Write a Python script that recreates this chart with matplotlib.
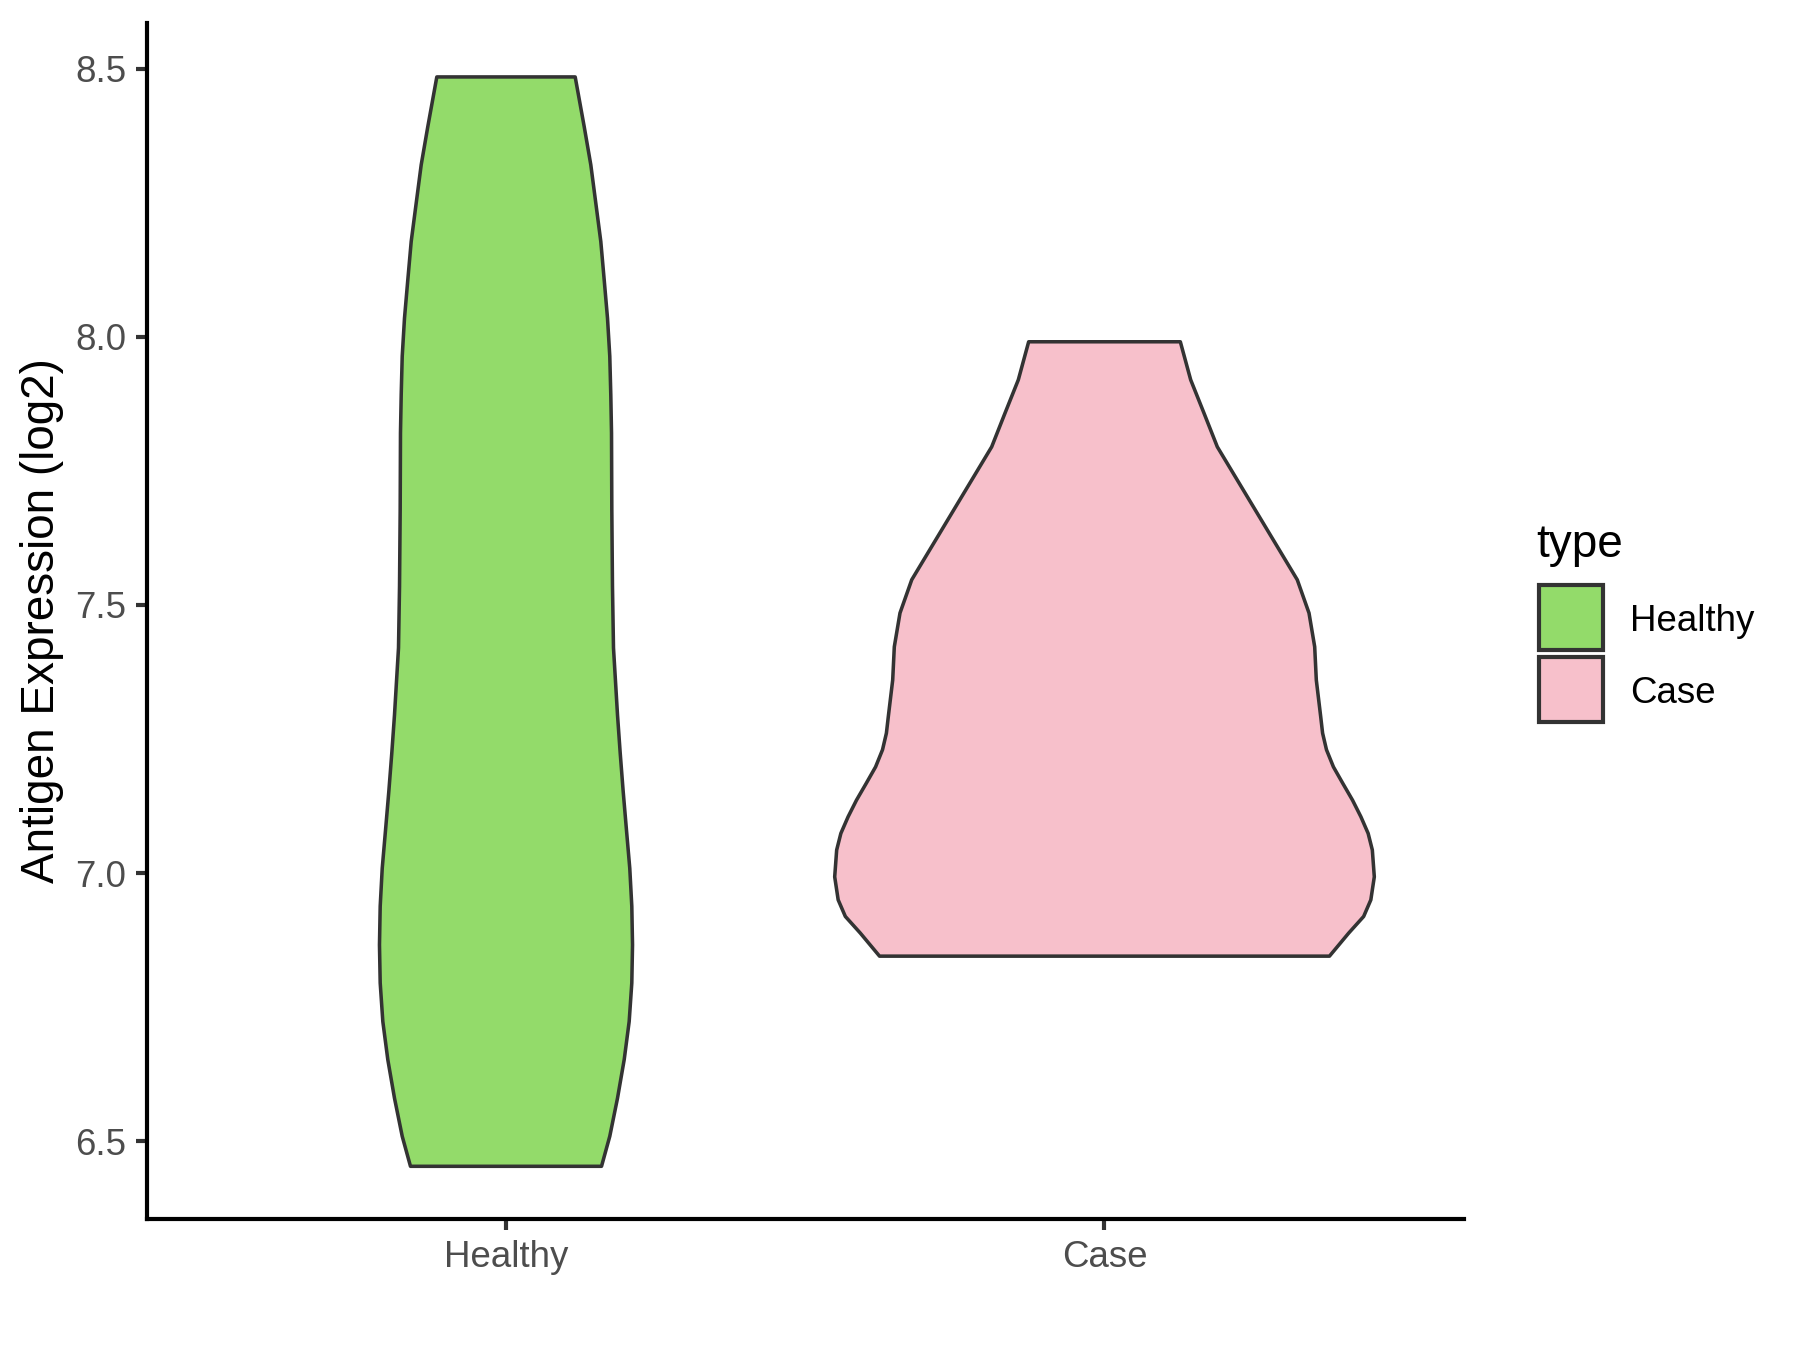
import numpy as np
import matplotlib
matplotlib.use("Agg")
import matplotlib.pyplot as plt
from matplotlib.patches import Rectangle

# ---- data ----
categories = ["Healthy", "Case"]
fill_colors = ["#93DB6A", "#F7C0CB"]

healthy_y = [8.485, 8.392, 8.321, 8.250, 8.178, 8.106, 8.035, 7.964, 7.892, 7.821,
             7.678, 7.535, 7.420, 7.366, 7.295, 7.224, 7.152, 7.080, 7.009, 6.938,
             6.866, 6.795, 6.723, 6.652, 6.580, 6.509, 6.453]
healthy_hw = [0.1156, 0.1307, 0.1417, 0.1500, 0.1584, 0.1641, 0.1696, 0.1734, 0.1751, 0.1763,
              0.1768, 0.1779, 0.1796, 0.1825, 0.1863, 0.1908, 0.1958, 0.2013, 0.2068, 0.2102,
              0.2114, 0.2102, 0.2058, 0.1975, 0.1863, 0.1734, 0.1596]

case_y = [7.991, 7.920, 7.858, 7.795, 7.733, 7.671, 7.609, 7.547, 7.485, 7.422,
          7.360, 7.292, 7.261, 7.230, 7.198, 7.167, 7.136, 7.105, 7.074,
          7.043, 6.993, 6.950, 6.919, 6.888, 6.845]
case_hw = [0.1267, 0.1440, 0.1662, 0.1885, 0.2219, 0.2553, 0.2887, 0.3221, 0.3417, 0.3512,
           0.3539, 0.3612, 0.3644, 0.3709, 0.3825, 0.3983, 0.4144, 0.4284, 0.4405,
           0.4475, 0.4508, 0.4450, 0.4330, 0.4080, 0.3759]

y_ticks = [6.5, 7.0, 7.5, 8.0, 8.5]
y_tick_labels = ["6.5", "7.0", "7.5", "8.0", "8.5"]
y_label = "Antigen Expression (log2)"
legend_title = "type"

profiles = [(healthy_y, healthy_hw), (case_y, case_hw)]

# ---- figure ----
plt.rcParams['font.family'] = ['Liberation Sans', 'DejaVu Sans']
fig = plt.figure(figsize=(6, 4.5), dpi=300)
W, H = 1800, 1350
ax = fig.add_axes([146.9 / W, 1 - 1219 / H, (1463.6 - 146.9) / W, (1219 - 23) / H])

edge = "#333333"
for i, ((ys, hws), col) in enumerate(zip(profiles, fill_colors)):
    c = i + 1
    ys = np.asarray(ys)
    hws = np.asarray(hws)
    xs = np.concatenate([c - hws, (c + hws)[::-1]])
    yy = np.concatenate([ys, ys[::-1]])
    ax.fill(xs, yy, facecolor=col, edgecolor=edge, linewidth=0.85, joinstyle="round", zorder=2)

ax.set_xlim(0.4, 2.6)
ax.set_ylim(6.3547, 8.5856)
ax.set_xticks([1, 2])
ax.set_xticklabels(categories)
ax.set_yticks(y_ticks)
ax.set_yticklabels(y_tick_labels)

for s in ["top", "right"]:
    ax.spines[s].set_visible(False)
for s in ["left", "bottom"]:
    ax.spines[s].set_linewidth(1.0)
    ax.spines[s].set_color("black")
    ax.spines[s].set_capstyle("projecting")

ax.tick_params(axis="both", length=2.75, width=1.0, color=edge,
               labelsize=8.8, labelcolor="#4D4D4D", pad=2.2)
ax.set_ylabel(y_label, fontsize=11, color="black", labelpad=2.75)

# ---- legend (drawn in pixel coordinates) ----
lg = fig.add_axes([0, 0, 1, 1], facecolor="none")
lg.set_xlim(0, W)
lg.set_ylim(H, 0)
lg.axis("off")
lg.text(1536, 557, legend_title, fontsize=11, color="black", ha="left", va="baseline")
key_tops = [585.3, 657.3]
for top, col, lab in zip(key_tops, fill_colors, categories):
    lg.add_patch(Rectangle((1539.3, top), 64, 64.2, facecolor=col, edgecolor=edge,
                           linewidth=1.0))
    lg.text(1630, top + 36.5, lab, fontsize=8.8, color="black", ha="left", va="center")

fig.savefig("out.png", dpi=300, facecolor="white")
